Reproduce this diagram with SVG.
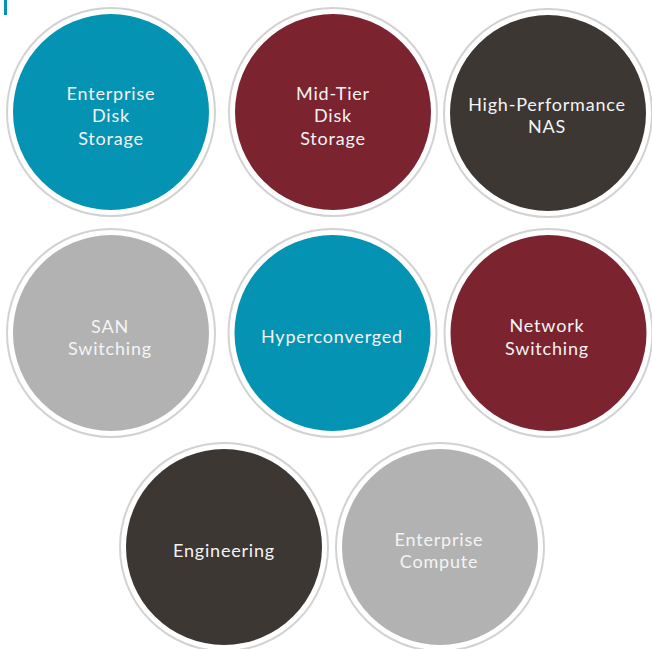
<svg xmlns="http://www.w3.org/2000/svg" width="652" height="649" viewBox="0 0 652 649">
<style>
.ring{fill:#ffffff;stroke:#d2d2d2;stroke-width:2}
.teal{fill:#0493b3}
.maroon{fill:#7b232f}
.dark{fill:#3d3734}
.gray{fill:#b2b2b2}
text{font-family:"Lato","Noto Sans",sans-serif;font-size:18px;fill:#f4f4f4;text-anchor:middle;letter-spacing:0.8px}
</style>
<rect width="652" height="649" fill="#ffffff"/>
<rect x="4" y="0" width="3" height="15" fill="#0493b3"/>
<g id="enterprise-disk-storage">
<circle class="ring" cx="111" cy="112" r="104"/>
<circle class="teal" cx="111" cy="112" r="98"/>
<text x="111" y="100">Enterprise</text>
<text x="111" y="122">Disk</text>
<text x="111" y="145">Storage</text>
</g>
<g id="mid-tier-disk-storage">
<circle class="ring" cx="333" cy="112" r="104"/>
<circle class="maroon" cx="333" cy="112" r="98"/>
<text x="333" y="100">Mid-Tier</text>
<text x="333" y="122">Disk</text>
<text x="333" y="145">Storage</text>
</g>
<g id="high-performance-nas">
<circle class="ring" cx="548" cy="113" r="104"/>
<circle class="dark" cx="548" cy="113" r="98"/>
<text x="547" y="111">High-Performance</text>
<text x="547" y="133">NAS</text>
</g>
<g id="san-switching">
<circle class="ring" cx="111" cy="333" r="104"/>
<circle class="gray" cx="111" cy="333" r="98"/>
<text x="110" y="333">SAN</text>
<text x="110" y="355">Switching</text>
</g>
<g id="hyperconverged">
<circle class="ring" cx="332.5" cy="333" r="104"/>
<circle class="teal" cx="332.5" cy="333" r="98"/>
<text x="332" y="343">Hyperconverged</text>
</g>
<g id="network-switching">
<circle class="ring" cx="548.5" cy="333" r="104"/>
<circle class="maroon" cx="548.5" cy="333" r="98"/>
<text x="547" y="332">Network</text>
<text x="547" y="355">Switching</text>
</g>
<g id="engineering">
<circle class="ring" cx="224" cy="547" r="104"/>
<circle class="dark" cx="224" cy="547" r="98"/>
<text x="224" y="557">Engineering</text>
</g>
<g id="enterprise-compute">
<circle class="ring" cx="440" cy="547" r="104"/>
<circle class="gray" cx="440" cy="547" r="98"/>
<text x="439" y="546">Enterprise</text>
<text x="439" y="568">Compute</text>
</g>
<g id="connectors"/>
</svg>
